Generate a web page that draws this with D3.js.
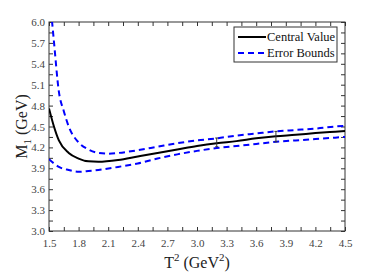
<!DOCTYPE html>
<html>
<head>
<meta charset="utf-8">
<script src="https://cdn.jsdelivr.net/npm/d3@7"></script>
<style>
  body { margin: 0; background: #fff; }
  text { font-family: "Liberation Serif", "Times New Roman", serif; }
</style>
</head>
<body>
<div id="chart"></div>
<script>
// data
var t2 = [1.5, 1.55, 1.6, 1.7, 1.8, 1.9, 2.0, 2.2, 2.4, 2.6, 2.8, 3.0, 3.2, 3.4, 3.6, 3.8, 4.0, 4.2, 4.4, 4.5];
var central = [4.76, 4.50, 4.30, 4.12, 4.04, 4.00, 3.995, 4.02, 4.07, 4.12, 4.17, 4.22, 4.26, 4.29, 4.33, 4.36, 4.38, 4.405, 4.425, 4.435];
var lower = [4.03, 3.97, 3.92, 3.875, 3.85, 3.86, 3.875, 3.92, 3.97, 4.04, 4.10, 4.15, 4.19, 4.22, 4.25, 4.28, 4.30, 4.32, 4.34, 4.35];
var t2Upper = [1.53, 1.55, 1.6, 1.65, 1.7, 1.8, 1.9, 2.0, 2.1, 2.2, 2.4, 2.6, 2.8, 3.0, 3.2, 3.4, 3.6, 3.8, 4.0, 4.2, 4.4, 4.5];
var upper = [6.02, 5.72, 5.0, 4.72, 4.50, 4.27, 4.17, 4.12, 4.11, 4.12, 4.16, 4.21, 4.26, 4.30, 4.33, 4.37, 4.40, 4.43, 4.45, 4.47, 4.50, 4.51];
var errX = [3.2, 3.8];
var errLo = [4.21, 4.28];
var errHi = [4.335, 4.43];
var xTicks = [1.5, 1.8, 2.1, 2.4, 2.7, 3.0, 3.3, 3.6, 3.9, 4.2, 4.5];
var yTicks = [3.0, 3.3, 3.6, 3.9, 4.2, 4.5, 4.8, 5.1, 5.4, 5.7, 6.0];
var legendLabels = ['Central Value', 'Error Bounds'];

var w = 382, h = 273;
var pLeft = 49, pRight = 345, pTop = 22, pBottom = 231;

var svg = d3.select('#chart').append('svg')
            .attr('width', w)
            .attr('height', h);

var x = d3.scaleLinear().domain([1.5, 4.5]).range([pLeft, pRight]);
var y = d3.scaleLinear().domain([3.0, 6.0]).range([pBottom, pTop]);

svg.append('clipPath').attr('id', 'clip')
   .append('rect').attr('x', pLeft).attr('y', pTop)
   .attr('width', pRight - pLeft).attr('height', pBottom - pTop);

var minorX = d3.range(1.5, 4.51, 0.15);
var minorY = d3.range(3.0, 6.01, 0.15);
var axisColor = '#333';

function styleAxis(g) {
  g.select('.domain').remove();
  g.selectAll('.tick line').attr('stroke', axisColor);
  g.selectAll('.tick text').attr('fill', '#444').style('font-size', '11px');
}

// bottom
svg.append('g').attr('transform', 'translate(0,' + pBottom + ')')
   .call(d3.axisBottom(x).tickValues(minorX).tickSizeInner(-4).tickSizeOuter(0).tickFormat(''))
   .call(styleAxis);
svg.append('g').attr('transform', 'translate(0,' + pBottom + ')')
   .call(d3.axisBottom(x).tickValues(xTicks).tickSize(0).tickPadding(8).tickFormat(d3.format('.1f')))
   .call(styleAxis);
// top
svg.append('g').attr('transform', 'translate(0,' + pTop + ')')
   .call(d3.axisTop(x).tickValues(minorX).tickSizeInner(-4).tickSizeOuter(0).tickFormat(''))
   .call(styleAxis);
// left
svg.append('g').attr('transform', 'translate(' + pLeft + ',0)')
   .call(d3.axisLeft(y).tickValues(minorY).tickSizeInner(-4).tickSizeOuter(0).tickFormat(''))
   .call(styleAxis);
svg.append('g').attr('transform', 'translate(' + pLeft + ',0)')
   .call(d3.axisLeft(y).tickValues(yTicks).tickSize(0).tickPadding(4).tickFormat(d3.format('.1f')))
   .call(styleAxis);
// right
svg.append('g').attr('transform', 'translate(' + pRight + ',0)')
   .call(d3.axisRight(y).tickValues(minorY).tickSizeInner(-4).tickSizeOuter(0).tickFormat(''))
   .call(styleAxis);

svg.append('rect')
   .attr('x', pLeft).attr('y', pTop)
   .attr('width', pRight - pLeft).attr('height', pBottom - pTop)
   .attr('fill', 'none').attr('stroke', axisColor).attr('stroke-width', 1);

var plot = svg.append('g').attr('clip-path', 'url(#clip)');

var line = d3.line()
             .x(function(d) { return x(d[0]); })
             .y(function(d) { return y(d[1]); })
             .curve(d3.curveMonotoneX);

plot.append('path')
    .datum(t2Upper.map(function(v, i) { return [v, upper[i]]; }))
    .attr('fill', 'none').attr('stroke', '#0000ff')
    .attr('stroke-width', 2).attr('stroke-dasharray', '6,4')
    .attr('d', line);
plot.append('path')
    .datum(t2.map(function(v, i) { return [v, lower[i]]; }))
    .attr('fill', 'none').attr('stroke', '#0000ff')
    .attr('stroke-width', 2).attr('stroke-dasharray', '6,4')
    .attr('d', line);
plot.append('path')
    .datum(t2.map(function(v, i) { return [v, central[i]]; }))
    .attr('fill', 'none').attr('stroke', '#000')
    .attr('stroke-width', 2)
    .attr('d', line);

// error bars
errX.forEach(function(v, i) {
  var g = plot.append('g').attr('stroke', '#333').attr('stroke-width', 1);
  g.append('line').attr('x1', x(v)).attr('x2', x(v)).attr('y1', y(errLo[i])).attr('y2', y(errHi[i]));
  g.append('line').attr('x1', x(v) - 1.5).attr('x2', x(v) + 1.5).attr('y1', y(errLo[i])).attr('y2', y(errLo[i]));
  g.append('line').attr('x1', x(v) - 1.5).attr('x2', x(v) + 1.5).attr('y1', y(errHi[i])).attr('y2', y(errHi[i]));
});

// axis labels
var xl = svg.append('text')
   .attr('x', (pLeft + pRight) / 2).attr('y', 268)
   .attr('text-anchor', 'middle').style('font-size', '16px').attr('fill', '#222');
xl.append('tspan').text('T');
xl.append('tspan').attr('dy', -7).style('font-size', '11px').text('2');
xl.append('tspan').attr('dy', 7).text(' (GeV');
xl.append('tspan').attr('dy', -7).style('font-size', '11px').text('2');
xl.append('tspan').attr('dy', 7).text(')');

var yl = svg.append('text')
   .attr('transform', 'translate(27,' + ((pTop + pBottom) / 2) + ') rotate(-90)')
   .attr('text-anchor', 'middle').style('font-size', '16px').attr('fill', '#222');
yl.append('tspan').text('M');
yl.append('tspan').attr('dy', 4).style('font-size', '11px').text('1');
yl.append('tspan').attr('dy', -4).text(' (GeV)');

// legend
var lg = svg.append('g');
lg.append('rect').attr('x', 234).attr('y', 27).attr('width', 103).attr('height', 35)
  .attr('fill', '#fff').attr('stroke', '#333').attr('stroke-width', 1);
var lgColors = ['#000', '#0000ff'];
var lgDash = [null, '6,4'];
legendLabels.forEach(function(lab, i) {
  var yy = 37 + i * 16;
  lg.append('line').attr('x1', 238).attr('x2', 266).attr('y1', yy).attr('y2', yy)
    .attr('stroke', lgColors[i]).attr('stroke-width', 2).attr('stroke-dasharray', lgDash[i]);
  lg.append('text').attr('x', 267).attr('y', yy + 4)
    .style('font-size', '12.5px').attr('fill', '#111').text(lab);
});
</script>
</body>
</html>
